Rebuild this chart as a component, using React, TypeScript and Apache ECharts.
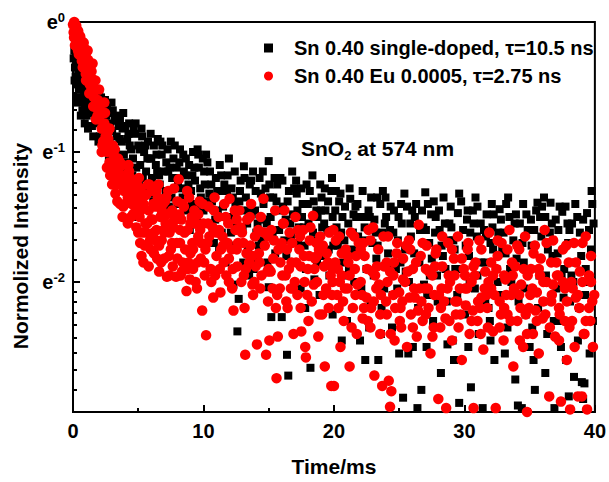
import React, { useEffect, useRef } from "react";
import * as echarts from "echarts";

const FONT = "'Liberation Sans', Arial, Helvetica, sans-serif";

const seriesNames = ["Sn 0.40 single-doped, τ=10.5 ns", "Sn 0.40 Eu 0.0005, τ=2.75 ns"];
const xAxisTitle = "Time/ms";
const yAxisTitle = "Normolized Intensity";

// [time (ms), ln(normalized intensity)]
const blackEarly = [
  [0.05,-0.28],[0.1,-0.22],[0.15,-0.35],[0.2,-0.42],[0.25,-0.3],[0.3,-0.48],[0.35,-0.25],[0.4,-0.38],[0.45,-0.52],[0.5,-0.33],
  [0.55,-0.45],[0.6,-0.58],[0.65,-0.4],[0.7,-0.5],[0.75,-0.62],[0.8,-0.44],[0.85,-0.55],[0.9,-0.66],[0.95,-0.48],[1.0,-0.6],
  [1.1,-0.52],[1.2,-0.67],[1.3,-0.56],[1.4,-0.7],[1.5,-0.6],[1.6,-0.5],[1.7,-0.72],[1.8,-0.62],[1.9,-0.78],[2.0,-0.55],
  [2.1,-0.68],[2.2,-0.8],[2.3,-0.62],[2.4,-0.74],[2.5,-0.86],[2.6,-0.66],[2.7,-0.78],[2.8,-0.92],[2.9,-0.7],[3.0,-0.84],
  [3.1,-0.96],[3.2,-0.76],[3.35,-0.88],[3.5,-0.8],[3.6,-0.75],[3.75,-0.92],[3.9,-1.02],[4.0,-0.8],[4.15,-0.9],[4.3,-0.78],
  [4.45,-0.98],[4.6,-1.05],[4.75,-0.86],[4.9,-1.5],[5.0,-0.95]
];
const blackMid = [
  [5.15,-1.1],[5.3,-0.88],[5.45,-1.0],[5.6,-1.15],[5.75,-0.92],[5.9,-1.05],[6.05,-1.2],[6.2,-0.95],[6.35,-1.1],[6.5,-0.9],
  [6.65,-1.25],[6.8,-1.02],[6.95,-1.15],[7.1,-1.3],[7.25,-0.98],[7.4,-1.12],[7.55,-1.35],[7.7,-1.05],[7.85,-1.2],[8.0,-1.4],
  [8.15,-1.08],[8.3,-1.28],[8.45,-1.02],[8.6,-1.18],[8.75,-1.45],[8.9,-1.1],[9.05,-1.3],[9.2,-1.0],[9.35,-1.22],[9.5,-1.5],
  [9.65,-1.12],[9.8,-1.35],[9.95,-1.05],[10.1,-1.25],[10.2,-1.02],
  [10.35,-1.55],[10.5,-1.15],[10.65,-1.38],[10.8,-1.7],[10.95,-1.2],[11.1,-1.45],[11.25,-1.1],[11.4,-1.62],[11.55,-1.3],[11.7,-1.85],
  [11.85,-1.18],[12.0,-1.5],[12.15,-1.28],[12.3,-2.02],[12.45,-1.4],[12.6,-2.38],[12.7,-2.13],[12.85,-1.22],[13.0,-1.6],[13.1,-1.11],
  [13.25,-1.35],[13.4,-1.75],[13.55,-1.25],[13.7,-1.48],[13.85,-1.9],[14.0,-1.3],[14.15,-1.55],[14.3,-1.2],[14.45,-1.68],[14.6,-1.4],
  [14.75,-1.28],[15.0,-1.07],[15.0,-2.04],[15.15,-1.5],[15.2,-2.27],[15.35,-1.35],[15.5,-1.78],[15.65,-1.25],[15.8,-1.6],[16.0,-2.27],
  [16.1,-1.42],[16.25,-1.95],[16.4,-2.56],[16.5,-2.72],[16.55,-1.3],[16.7,-1.65],[16.85,-1.48],[17.0,-1.85],[17.15,-1.32],[17.3,-1.58],
  [17.45,-2.05],[17.6,-1.4],[17.75,-1.72],[17.9,-1.25],[18.05,-1.55],[18.2,-2.66],[18.3,-1.9],[18.45,-1.38],[18.6,-1.68],[18.75,-1.5],
  [18.9,-2.1],[19.05,-1.35],[19.2,-1.8],[19.35,-1.45],[19.5,-1.6],[19.65,-1.95],[19.8,-1.3],[19.95,-1.72]
];
const blackLate = [
  [20.1,-1.45],[20.25,-2.1],[20.4,-1.38],[20.55,-1.62],[20.7,-1.85],[20.85,-1.42],[21.0,-2.3],[21.1,-1.55],[21.25,-1.36],[21.4,-1.75],
  [21.55,-2.0],[21.7,-1.5],[21.85,-1.65],[22.0,-2.45],[22.2,-1.3],[22.35,-1.58],[22.5,-1.9],[22.65,-1.45],[22.8,-2.15],[22.95,-1.7],
  [23.1,-1.52],[23.25,-1.82],[23.4,-2.6],[23.55,-1.4],[23.7,-1.62],[23.85,-2.05],[24.0,-1.5],[24.15,-1.78],[24.3,-1.6],[24.45,-2.35],
  [24.6,-1.45],[24.75,-1.9],[24.9,-1.68],[25.05,-2.2],[25.2,-1.55],[25.3,-2.89],[25.45,-1.75],[25.6,-1.42],[25.75,-2.0],[25.9,-1.65],
  [26.05,-2.5],[26.2,-1.5],[26.4,-2.97],[26.55,-1.85],[26.7,-2.83],[26.85,-1.58],[27.0,-1.31],[27.15,-2.1],[27.3,-1.7],[27.45,-1.48],
  [27.6,-2.3],[27.75,-1.62],[27.9,-1.95],[28.05,-1.45],[28.2,-2.7],[28.35,-1.8],[28.5,-1.55],[28.65,-2.15],[28.8,-1.68],[28.95,-1.42],
  [29.1,-2.45],[29.25,-1.75],[29.5,-1.47],[29.6,-2.93],[29.75,-1.9],[29.9,-1.6],[30.05,-2.25],[30.2,-1.52],[30.35,-1.8],[30.5,-2.81],
  [30.65,-1.45],[30.8,-2.05],[30.95,-1.65],[31.1,-2.4],[31.25,-1.55],[31.4,-2.97],[31.55,-1.85],[31.7,-1.48],[31.85,-2.2],[32.0,-1.7],
  [32.15,-1.58],[32.3,-2.6],[32.45,-1.9],[32.7,-1.44],[32.85,-2.1],[33.0,-1.62],[33.15,-1.78],[33.3,-2.35],[33.45,-1.5],[33.6,-2.0],
  [33.75,-1.68],[33.9,-2.75],[34.1,-2.95],[34.25,-1.55],[34.4,-2.97],[34.55,-1.85],[34.7,-2.25],[34.85,-1.6],[35.0,-2.5],[35.15,-1.72],
  [35.4,-2.83],[35.6,-1.39],[35.75,-1.95],[35.9,-1.65],[36.05,-2.15],[36.2,-1.5],[36.35,-2.4],[36.6,-1.39],[36.75,-1.8],[36.9,-2.97],
  [37.05,-2.05],[37.2,-1.6],[37.35,-2.3],[37.5,-1.46],[37.65,-1.9],[37.8,-2.6],[37.95,-1.7],[38.1,-2.15],[38.25,-1.55],[38.4,-2.73],
  [38.55,-1.85],[38.7,-2.45],[38.85,-1.62],[39.0,-2.77],[39.1,-2.9],[39.2,-2.78],[39.4,-1.47],[39.55,-2.0],[39.7,-1.75],[39.85,-2.3]
];
const blackFill = [
  [10.45,-1.32],[11.0,-1.62],[11.6,-1.25],[12.2,-1.72],[12.9,-1.45],[13.5,-1.95],[14.05,-1.62],[14.9,-1.85],[15.45,-1.2],[16.3,-1.52],
  [17.1,-1.22],[17.8,-2.2],[18.5,-1.98],[19.1,-1.58],[19.9,-2.25],[20.3,-1.72],[20.9,-1.95],[21.5,-1.48],[22.1,-1.78],[22.7,-2.35],
  [23.3,-1.35],[23.9,-1.55],[24.5,-2.1],[25.1,-1.85],[25.7,-2.55],[26.3,-1.4],[26.9,-2.02],[27.5,-1.82],[28.1,-1.6],[28.7,-2.48],
  [29.3,-1.9],[29.9,-2.05],[30.45,-1.62],[31.0,-1.95],[31.6,-2.15],[32.2,-1.75],[32.8,-1.52],[33.4,-2.1],[34.0,-1.82],[34.6,-2.05],
  [35.2,-2.35],[35.8,-1.5],[36.4,-1.75],[37.0,-1.52],[37.6,-2.12],[38.2,-1.95],[38.8,-2.2],[39.3,-1.9],[39.9,-1.55]
];
const blackFill2 = [
  [0.12,-0.45],[0.28,-0.58],[0.42,-0.28],[0.58,-0.35],[0.72,-0.68],[0.88,-0.38],[1.05,-0.72],[1.25,-0.45],[1.45,-0.8],[1.65,-0.62],
  [1.85,-0.52],[2.05,-0.88],[2.25,-0.7],[2.45,-0.6],[2.65,-0.95],[2.85,-0.8],[3.05,-0.68],[3.3,-1.0],[3.55,-0.9],[3.8,-0.82],
  [4.05,-1.08],[4.35,-0.95],[4.65,-0.82],[4.85,-1.12],
  [5.1,-0.98],[5.35,-1.2],[5.55,-0.95],[5.8,-1.28],[6.0,-1.05],[6.25,-1.32],[6.45,-1.15],[6.7,-0.92],[6.9,-1.38],[7.15,-1.08],
  [7.35,-1.42],[7.6,-1.2],[7.8,-0.95],[8.05,-1.25],[8.25,-1.52],[8.5,-1.15],[8.7,-1.32],[8.95,-1.6],[9.15,-1.18],[9.4,-1.42],
  [9.6,-1.02],[9.85,-1.55],[10.05,-1.15],
  [10.25,-1.38],[10.6,-1.25],[10.9,-1.52],[11.2,-1.75],[11.5,-1.42],[11.8,-1.3],[12.1,-1.62],[12.4,-1.15],[12.75,-1.38],[13.05,-1.85],
  [13.35,-1.55],[13.65,-1.22],[13.95,-1.45],[14.25,-1.72],[14.55,-1.15],[14.85,-1.55],[15.1,-1.35],[15.4,-1.68],[15.75,-1.45],[16.05,-1.22],
  [16.35,-1.8],[16.65,-1.55],[16.95,-1.28],[17.25,-1.7],[17.55,-1.5],[17.85,-1.9],[18.15,-1.3],[18.4,-1.62],[18.7,-1.85],[19.0,-1.45],
  [19.3,-1.28],[19.6,-1.75],[19.9,-1.5],
  [20.2,-1.58],[20.5,-1.32],[20.8,-1.68],[21.15,-1.9],[21.45,-1.62],[21.8,-1.4],[22.1,-2.05],[22.45,-1.68],[22.75,-1.5],[23.05,-1.95],
  [23.35,-1.72],[23.65,-2.2],[23.95,-1.35],[24.25,-1.88],[24.55,-1.62],[24.85,-2.05],[25.15,-1.4],[25.5,-1.92],[25.85,-1.55],[26.15,-1.78],
  [26.45,-2.2],[26.75,-1.45],[27.05,-1.6],[27.35,-1.95],[27.65,-1.38],[27.95,-2.15],[28.25,-1.72],[28.55,-1.9],[28.85,-1.55],[29.15,-1.68],
  [29.45,-2.1],[29.75,-1.38],[30.1,-1.72],[30.4,-2.0],[30.7,-1.55],[31.0,-1.42],[31.3,-1.85],[31.65,-1.65],[31.95,-2.3],[32.25,-1.48],
  [32.55,-2.0],[32.9,-1.75],[33.2,-1.4],[33.5,-1.9],[33.85,-1.55],[34.15,-2.15],[34.45,-1.7],[34.75,-1.48],[35.05,-1.9],[35.35,-1.6],
  [35.65,-2.2],[35.95,-1.42],[36.25,-1.95],[36.55,-1.62],[36.85,-2.3],[37.15,-1.78],[37.45,-1.95],[37.75,-1.42],[38.05,-1.6],[38.35,-2.0],
  [38.65,-1.5],[38.95,-1.8],[39.25,-2.1],[39.55,-1.6],[39.8,-1.4]
];
const blackFill3 = [
  [0.3,-0.62],[0.6,-0.72],[0.9,-0.78],[1.15,-0.82],[1.35,-0.62],[1.55,-0.88],[1.75,-0.68],[1.95,-0.92],[2.15,-0.58],[2.35,-0.98],
  [2.55,-0.72],[2.75,-1.05],[2.95,-0.62],[3.15,-1.08],[3.4,-0.72],[3.65,-1.12],[3.85,-0.7],[4.1,-1.15],[4.25,-0.86],[4.55,-1.18],
  [4.8,-0.78],[5.05,-1.25],[5.25,-0.82],[5.5,-1.32],[5.7,-1.05],[5.95,-0.86],[6.15,-1.38],[6.4,-1.02],[6.6,-1.18],[6.85,-0.95],
  [7.05,-1.45],[7.3,-1.15],[7.5,-0.92],[7.75,-1.5],[7.95,-1.12],[8.2,-0.98],[8.4,-1.35],[8.65,-1.05],[8.85,-1.25],[9.1,-1.4],
  [9.3,-1.12],[9.55,-0.98],[9.75,-1.28],[10.0,-1.45],[10.3,-1.08],[10.7,-1.6],[11.05,-1.3],[11.35,-1.18],[11.65,-1.5],[11.95,-1.05],
  [12.25,-1.35],[12.55,-1.58],[12.8,-1.3],[13.15,-1.2],[13.45,-1.45],[13.8,-1.15],[14.1,-1.82],[14.4,-1.32],[14.7,-1.52],[15.05,-1.25],
  [15.3,-1.62],[15.6,-1.38],[15.9,-1.2],[16.2,-1.68],[16.45,-1.38],[16.8,-1.15],[17.2,-1.45],[17.5,-1.28],[17.7,-1.58],[18.0,-1.4],
  [18.35,-1.18],[18.65,-1.45],[18.95,-1.25],[19.25,-1.55],[19.55,-1.38],[19.85,-1.2],[20.15,-1.3],[20.65,-1.5],[21.2,-1.28],[21.65,-1.42],
  [22.25,-1.5],[22.85,-1.35],[23.2,-1.62],[23.75,-1.3],[24.35,-1.42],[24.95,-1.5],[25.4,-1.32],[26.0,-1.45],[26.6,-1.6],[27.2,-1.4],
  [27.8,-1.5],[28.4,-1.35],[29.0,-1.58],[29.6,-1.32],[30.25,-1.45],[30.85,-1.35],[31.5,-1.6],[32.1,-1.4],[32.6,-1.62],[33.35,-1.35],
  [33.95,-1.48],[34.5,-1.4],[35.1,-1.52],[35.5,-1.45],[36.1,-1.35],[36.7,-1.55],[37.3,-1.42],[37.9,-1.55],[38.5,-1.4],[39.1,-1.52],
  [39.75,-1.3],
  [20.6,-2.45],[22.4,-2.6],[23.6,-2.4],[25.0,-2.55],[27.1,-2.5],[29.2,-2.6],[30.3,-2.5],[32.0,-2.45],[33.1,-2.55],[35.3,-2.6],
  [36.2,-2.7],[37.4,-2.5],[38.0,-2.88],[39.6,-2.55]
];

const redEarly = [
  [0.0,-0.02],[0.05,-0.08],[0.1,0.0],[0.15,-0.05],[0.2,-0.12],[0.25,-0.03],[0.3,-0.1],[0.35,-0.16],[0.4,-0.07],[0.45,-0.14],
  [0.5,-0.2],[0.55,-0.11],[0.6,-0.18],[0.65,-0.25],[0.7,-0.15],[0.75,-0.22],[0.8,-0.28],[0.85,-0.2],[0.9,-0.26],[0.95,-0.33],
  [1.0,-0.24],[1.05,-0.3],[1.1,-0.38],[1.15,-0.29],[1.2,-0.42],[1.3,-0.35],[1.4,-0.5],[1.5,-0.44],[1.6,-0.58],[1.7,-0.52],
  [1.8,-0.66],[1.9,-0.6],[2.0,-0.75],[2.1,-0.68],[2.2,-0.82],[2.3,-0.92],[2.4,-0.78],[2.5,-0.88],[2.6,-1.0],[2.7,-0.9],
  [2.8,-1.08],[2.9,-0.96],[3.0,-1.12],[3.1,-1.02],[3.2,-1.2],[3.3,-1.08],[3.4,-1.25],[3.5,-1.15],[3.6,-1.4],[3.7,-1.2],
  [3.8,-1.1],[3.9,-1.3],[4.0,-1.18],[4.1,-1.25],[4.2,-1.35],[4.3,-1.15],[4.4,-1.28],[4.5,-1.4],[4.6,-1.22],[4.7,-1.32],
  [4.8,-1.45],[4.9,-1.25],[5.0,-1.38]
];
const redMid = [
  [5.1,-1.5],[5.2,-1.28],[5.3,-1.62],[5.4,-1.4],[5.5,-1.72],[5.6,-1.33],[5.7,-1.55],[5.8,-1.45],[5.9,-1.68],[6.0,-1.3],
  [6.1,-1.52],[6.2,-1.78],[6.3,-1.42],[6.4,-1.6],[6.5,-1.35],[6.6,-1.92],[6.7,-1.5],[6.8,-1.68],[6.9,-1.4],[7.0,-1.82],
  [7.1,-1.55],[7.2,-1.96],[7.3,-1.3],[7.4,-1.62],[7.5,-1.75],[7.6,-1.45],[7.7,-1.58],[7.9,-1.96],[8.0,-1.38],[8.1,-1.21],
  [8.2,-1.7],[8.3,-1.52],[8.4,-1.85],[8.5,-1.42],[8.7,-2.07],[8.8,-1.6],[8.9,-1.35],[9.0,-1.78],[9.1,-1.5],[9.2,-1.9],
  [9.3,-1.45],[9.5,-2.05],[9.6,-1.65],[9.7,-1.38],[9.8,-1.82],[9.9,-2.22],[10.0,-1.55],[10.2,-2.41],
  [10.3,-1.7],[10.4,-1.42],[10.55,-1.9],[10.7,-1.58],[10.85,-1.35],[11.0,-1.8],[11.15,-1.5],[11.3,-2.08],[11.45,-1.65],[11.6,-1.4],
  [11.75,-1.95],[11.9,-1.55],[12.0,-1.36],[12.15,-1.75],[12.3,-2.22],[12.45,-1.6],[12.6,-1.88],[12.75,-1.45],[12.9,-2.0],[13.05,-1.7],
  [13.2,-2.56],[13.35,-1.52],[13.5,-1.85],[13.65,-1.4],[13.8,-2.1],[13.95,-1.65],[14.1,-2.48],[14.25,-1.78],[14.4,-1.5],[14.6,-1.36],
  [14.8,-2.56],[14.9,-1.92],[15.05,-2.45],[15.2,-1.6],[15.35,-1.82],[15.5,-1.45],[15.6,-2.74],[15.7,-2.42],[15.85,-2.05],[16.0,-1.7],
  [16.15,-1.55],[16.3,-1.95],[16.45,-2.2],[16.6,-1.62],[16.75,-1.85],[16.9,-2.4],[17.05,-1.5],[17.2,-2.1],[17.35,-1.75],[17.5,-2.38],
  [17.65,-1.6],[17.8,-2.5],[17.85,-2.58],[18.0,-1.9],[18.15,-1.68],[18.3,-2.15],[18.4,-1.49],[18.55,-1.82],[18.7,-2.0],[18.8,-2.42],
  [18.95,-1.65],[19.1,-2.25],[19.3,-2.65],[19.45,-1.78],[19.6,-2.2],[19.75,-1.95],[19.8,-2.8],[19.95,-1.6]
];
const redLate = [
  [20.0,-2.8],[20.1,-1.85],[20.25,-2.1],[20.4,-1.65],[20.5,-2.5],[20.6,-1.95],[20.75,-2.3],[20.9,-1.75],[21.05,-2.05],[21.2,-2.65],
  [21.3,-1.62],[21.45,-2.2],[21.6,-1.9],[21.75,-2.4],[21.9,-1.7],[22.05,-2.0],[22.2,-2.28],[22.35,-1.8],[22.5,-2.12],[22.65,-1.6],
  [22.8,-2.35],[22.95,-1.92],[23.0,-1.58],[23.1,-2.72],[23.25,-2.05],[23.4,-1.75],[23.55,-2.25],[23.7,-2.8],[23.85,-1.88],[24.0,-2.15],
  [24.15,-1.65],[24.2,-2.76],[24.35,-2.4],[24.4,-2.84],[24.3,-2.96],[24.55,-1.95],[24.7,-2.2],[24.85,-1.7],[25.0,-2.08],[25.15,-2.35],
  [25.3,-1.82],[25.45,-2.0],[25.6,-2.5],[25.75,-1.68],[25.9,-2.25],[26.05,-1.9],[26.2,-2.12],[26.35,-2.42],[26.5,-1.56],[26.65,-1.8],
  [26.8,-2.3],[26.95,-2.05],[27.1,-1.72],[27.25,-2.2],[27.4,-2.55],[27.55,-1.95],[27.7,-2.1],[27.85,-1.75],[28.0,-2.9],[28.15,-2.35],
  [28.3,-1.88],[28.45,-2.15],[28.6,-2.97],[28.75,-1.7],[28.9,-2.0],[29.05,-2.45],[29.2,-1.82],[29.35,-2.25],[29.5,-1.65],[29.65,-2.05],
  [29.8,-2.6],[29.95,-1.9],[30.1,-2.18],[30.25,-1.75],[30.4,-2.4],[30.55,-2.0],[30.7,-2.97],[30.85,-1.85],[31.0,-2.3],[31.15,-1.68],
  [31.3,-2.12],[31.45,-2.52],[31.6,-1.92],[31.75,-2.2],[31.9,-1.62],[32.05,-2.05],[32.2,-2.38],[32.4,-2.97],[32.55,-1.8],[32.7,-2.15],
  [32.85,-1.7],[33.0,-2.45],[33.15,-1.98],[33.3,-2.25],[33.45,-1.6],[33.6,-2.1],[33.75,-2.65],[33.9,-1.88],[34.05,-2.3],[34.2,-1.75],
  [34.35,-2.02],[34.5,-2.5],[34.65,-1.65],[34.8,-3.0],[34.95,-2.2],[35.1,-1.9],[35.25,-2.4],[35.4,-1.72],[35.55,-2.08],[35.7,-2.55],
  [35.85,-1.82],[36.0,-2.28],[36.15,-1.6],[36.3,-2.0],[36.5,-2.88],[36.65,-2.15],[36.8,-1.68],[36.95,-2.42],[37.1,-1.95],[37.25,-2.2],
  [37.4,-2.92],[37.55,-1.75],[37.7,-2.05],[37.85,-2.6],[38.0,-1.85],[38.1,-2.98],[38.25,-2.3],[38.4,-1.7],[38.55,-2.12],[38.7,-2.88],
  [38.85,-1.92],[39.0,-2.88],[39.15,-2.4],[39.3,-1.65],[39.4,-2.98],[39.55,-2.2],[39.7,-1.8],[39.85,-2.5],[39.95,-2.1]
];
const redFill = [
  [5.25,-1.8],[5.85,-1.25],[6.45,-1.82],[7.05,-1.38],[7.65,-1.88],[8.25,-1.95],[8.85,-1.85],[9.45,-1.55],[10.1,-1.95],[10.75,-2.12],
  [11.35,-1.75],[11.95,-2.0],[12.55,-1.52],[13.15,-2.2],[13.75,-1.8],[14.35,-2.05],[14.95,-1.65],[15.55,-2.2],[16.2,-1.45],[16.85,-2.05],
  [17.45,-1.88],[18.05,-2.3],[18.65,-1.7],[19.25,-1.88],[19.85,-2.1],[20.45,-2.0],[21.05,-1.8],[21.65,-2.1],[22.25,-1.7],[22.85,-2.2],
  [23.45,-2.02],[24.05,-1.85],[24.65,-2.45],[25.25,-2.15],[25.85,-1.75],[26.45,-2.22],[27.05,-1.9],[27.65,-2.35],[28.25,-2.05],[28.85,-2.3],
  [29.45,-2.15],[30.05,-1.95],[30.65,-2.22],[31.25,-2.4],[31.85,-2.0],[32.45,-1.9],[33.05,-2.2],[33.65,-1.85],[34.25,-2.45],[34.85,-1.95],
  [35.45,-2.22],[36.05,-2.0],[36.65,-1.85],[37.25,-2.45],[37.85,-2.15],[38.45,-2.5],[39.05,-2.0],[39.65,-2.3]
];
const redFill2 = [
  [0.08,-0.12],[0.22,-0.06],[0.38,-0.22],[0.52,-0.14],[0.68,-0.3],[0.82,-0.16],[0.98,-0.4],[1.12,-0.22],[1.28,-0.48],[1.42,-0.38],
  [1.55,-0.65],[1.72,-0.45],[1.88,-0.72],[2.05,-0.62],[2.25,-0.95],[2.45,-0.7],[2.65,-0.85],[2.85,-1.18],[3.05,-0.95],[3.25,-1.32],
  [3.45,-1.05],[3.65,-1.25],[3.85,-1.42],[4.05,-1.28],[4.25,-1.1],[4.45,-1.5],[4.65,-1.35],[4.85,-1.58],
  [5.05,-1.2],[5.15,-1.7],[5.35,-1.35],[5.55,-1.55],[5.75,-1.25],[5.95,-1.75],[6.15,-1.4],[6.35,-1.68],[6.55,-1.25],[6.75,-1.85],
  [6.95,-1.6],[7.15,-1.35],[7.35,-1.8],[7.55,-1.55],[7.75,-1.28],[7.95,-1.7],[8.15,-1.48],[8.35,-1.92],[8.55,-1.62],[8.75,-1.3],
  [8.95,-1.98],[9.15,-1.7],[9.35,-1.55],[9.55,-1.85],[9.75,-1.6],[9.95,-1.4],
  [10.15,-1.75],[10.35,-1.55],[10.6,-2.0],[10.8,-1.45],[11.05,-1.62],[11.25,-1.9],[11.5,-1.72],[11.7,-1.5],[11.95,-1.82],[12.2,-2.05],
  [12.4,-1.45],[12.65,-1.7],[12.85,-1.58],[13.1,-1.95],[13.3,-1.78],[13.55,-1.5],[13.75,-2.02],[14.0,-1.88],[14.2,-1.6],[14.45,-1.95],
  [14.7,-1.72],[14.95,-2.15],[15.15,-1.92],[15.4,-1.68],[15.65,-2.1],[15.9,-1.85],[16.1,-1.55],[16.35,-2.15],[16.55,-1.9],[16.8,-1.7],
  [17.0,-2.0],[17.25,-1.6],[17.45,-2.2],[17.7,-1.8],[17.95,-2.1],[18.2,-1.58],[18.45,-2.02],[18.7,-1.8],[18.9,-2.25],[19.15,-1.72],
  [19.4,-2.05],[19.65,-1.62],[19.9,-1.9],
  [20.15,-1.68],[20.35,-2.2],[20.6,-1.78],[20.85,-2.05],[21.1,-1.85],[21.35,-2.35],[21.55,-1.65],[21.8,-2.02],[22.05,-1.75],[22.3,-2.2],
  [22.55,-1.9],[22.8,-1.68],[23.05,-2.15],[23.3,-1.88],[23.55,-2.4],[23.8,-1.65],[24.05,-2.25],[24.3,-1.92],[24.55,-2.1],[24.8,-1.78],
  [25.05,-2.3],[25.3,-1.98],[25.55,-1.72],[25.8,-2.12],[26.05,-2.35],[26.3,-1.85],[26.55,-2.05],[26.8,-1.7],[27.05,-2.25],[27.3,-1.92],
  [27.55,-2.42],[27.8,-1.78],[28.05,-2.1],[28.3,-1.65],[28.55,-2.28],[28.8,-1.95],[29.05,-1.75],[29.3,-2.15],[29.55,-2.35],[29.8,-1.82],
  [30.05,-2.05],[30.3,-1.7],[30.55,-2.3],[30.8,-1.95],[31.05,-2.15],[31.3,-1.75],[31.55,-2.05],[31.8,-2.35],[32.05,-1.85],[32.3,-2.1],
  [32.55,-1.68],[32.8,-2.25],[33.05,-1.95],[33.3,-1.75],[33.55,-2.3],[33.8,-2.05],[34.05,-1.72],[34.3,-2.2],[34.55,-1.9],[34.8,-2.4],
  [35.05,-2.1],[35.3,-1.78],[35.55,-2.3],[35.8,-1.95],[36.05,-2.15],[36.3,-1.7],[36.55,-2.35],[36.8,-2.02],[37.05,-1.85],[37.3,-2.25],
  [37.55,-2.0],[37.8,-1.72],[38.05,-2.35],[38.3,-2.05],[38.55,-1.85],[38.8,-2.2],[39.05,-1.7],[39.3,-2.3],[39.55,-1.95],[39.8,-2.15]
];
const redFill3 = [
  [0.15,-0.18],[0.45,-0.25],[0.75,-0.35],[1.0,-0.45],[1.25,-0.55],[1.5,-0.32],[1.75,-0.75],[2.0,-0.52],[2.2,-1.0],[2.4,-0.62],
  [2.6,-1.12],[2.8,-0.82],[3.0,-1.25],[3.2,-0.98],[3.4,-1.38],[3.6,-1.08],[3.8,-1.5],[4.0,-1.4],[4.2,-1.55],[4.4,-1.2],
  [4.6,-1.48],[4.8,-1.3],[5.0,-1.62],[5.2,-1.45],[5.4,-1.85],[5.6,-1.62],[5.8,-1.88],[6.0,-1.52],[6.2,-1.62],[6.4,-1.3],
  [6.6,-1.72],[6.8,-1.45],[7.0,-1.62],[7.2,-1.48],[7.4,-1.95],[7.6,-1.7],[7.8,-1.52],[8.0,-1.82],[8.2,-1.6],[8.4,-1.4],
  [8.6,-1.75],[8.8,-1.9],[9.0,-1.55],[9.2,-1.75],[9.4,-2.0],[9.6,-1.48],[9.8,-1.7],[10.05,-1.85],[10.45,-1.65],[10.9,-1.95],
  [11.2,-1.6],[11.55,-1.85],[11.85,-1.7],[12.25,-1.9],[12.55,-1.75],[12.95,-1.62],[13.25,-1.9],[13.6,-1.72],[13.9,-2.0],[14.3,-1.85],
  [14.65,-1.62],[15.0,-1.9],[15.3,-2.05],[15.75,-1.75],[16.05,-1.95],[16.4,-1.75],[16.7,-2.05],[17.1,-1.85],[17.4,-1.65],[17.75,-2.0],
  [18.1,-1.8],[18.5,-1.9],[18.85,-1.75],[19.2,-2.1],[19.55,-1.85],[19.9,-2.0],[20.3,-1.9],[20.7,-2.15],[21.2,-1.95],[21.7,-1.8],
  [22.15,-2.1],[22.6,-2.3],[23.15,-1.95],[23.6,-2.1],[24.1,-2.0],[24.6,-1.85],[25.1,-2.2],[25.65,-1.92],[26.15,-2.05],[26.7,-2.15],
  [27.2,-2.05],[27.75,-1.88],[28.2,-2.2],[28.7,-2.05],[29.25,-1.95],[29.7,-2.25],[30.2,-2.05],[30.7,-1.88],[31.2,-2.2],[31.7,-2.1],
  [32.2,-1.95],[32.7,-2.35],[33.2,-2.1],[33.7,-1.95],[34.2,-2.1],[34.7,-2.25],[35.2,-2.05],[35.7,-1.9],[36.2,-2.25],[36.7,-2.1],
  [37.2,-1.95],[37.7,-2.3],[38.2,-2.0],[38.7,-2.1],[39.2,-2.4],[39.7,-2.0]
];

const xMin = 0;
const xMax = 40;
const xInterval = 10;
const yMinExp = -3;
const yMaxExp = 0;

const toPoints = (arr: number[][]) => arr.map(([t, l]) => [t, Math.exp(l)]);

export default function App() {
  const ref = useRef<HTMLDivElement>(null);
  useEffect(() => {
    if (!ref.current) return;
    const chart = echarts.init(ref.current, null, { renderer: "svg" });
    const bold = { fontFamily: FONT, fontWeight: "bold" as const, color: "#000" };
    chart.setOption({
      animation: false,
      backgroundColor: "#fff",
      grid: {
        left: 73, right: 11, top: 22, bottom: 69,
        containLabel: false, show: true, borderColor: "#000", borderWidth: 2,
      },
      legend: {
        orient: "vertical",
        left: 259,
        top: 33,
        itemWidth: 9,
        itemHeight: 9,
        itemGap: 8,
        selectedMode: false,
        textStyle: { ...bold, fontSize: 20, lineHeight: 20, padding: [0, 0, 0, 16] },
        data: [
          { name: seriesNames[0], icon: "rect" },
          { name: seriesNames[1], icon: "circle" },
        ],
      },
      graphic: [
        {
          type: "text",
          left: 301,
          top: 138,
          style: {
            text: "{a|SnO}{b|2}{a| at 574 nm}",
            fill: "#000",
            rich: {
              a: { fontSize: 21, fontWeight: "bold", fontFamily: FONT, fill: "#000", lineHeight: 26, verticalAlign: "middle" },
              b: { fontSize: 13, fontWeight: "bold", fontFamily: FONT, fill: "#000", lineHeight: 13, verticalAlign: "bottom" },
            },
          },
        },
      ],
      xAxis: {
        type: "value",
        min: xMin,
        max: xMax,
        interval: xInterval,
        name: xAxisTitle,
        nameLocation: "middle",
        nameGap: 44,
        nameTextStyle: { ...bold, fontSize: 21 },
        axisLine: { show: true, onZero: false, lineStyle: { color: "#000", width: 2 } },
        axisTick: { show: true, inside: true, length: 7, lineStyle: { color: "#000", width: 2 } },
        minorTick: { show: true, splitNumber: 2, length: 4, lineStyle: { color: "#000", width: 2 } },
        axisLabel: { ...bold, fontSize: 20, margin: 9 },
        splitLine: { show: false },
      },
      yAxis: {
        type: "log",
        logBase: Math.E,
        min: Math.exp(yMinExp),
        max: Math.exp(yMaxExp),
        name: yAxisTitle,
        nameLocation: "middle",
        nameGap: 42,
        nameTextStyle: { ...bold, fontSize: 21, padding: [0, 58, 0, 0] },
        axisLine: { show: true, onZero: false, lineStyle: { color: "#000", width: 2 } },
        axisTick: { show: true, inside: true, length: 7, lineStyle: { color: "#000", width: 2 } },
        minorTick: { show: true, splitNumber: 9, length: 4, lineStyle: { color: "#000", width: 2 } },
        splitLine: { show: false },
        minorSplitLine: { show: false },
        axisLabel: {
          showMinLabel: false,
          margin: 8,
          formatter: (v: number) => `{e|e}{s|${Math.round(Math.log(v))}}`,
          rich: {
            e: { ...bold, fontSize: 20, lineHeight: 22, verticalAlign: "middle" },
            s: { ...bold, fontSize: 13, lineHeight: 13, verticalAlign: "top" },
          },
        },
      },
      series: [
        {
          type: "scatter",
          name: seriesNames[0],
          symbol: "rect",
          symbolSize: 8,
          itemStyle: { color: "#000", opacity: 1 },
          emphasis: { disabled: true },
          data: toPoints([...blackEarly, ...blackFill2, ...blackFill3, ...blackMid, ...blackFill, ...blackLate]),
          z: 2,
        },
        {
          type: "scatter",
          name: seriesNames[1],
          symbol: "circle",
          symbolSize: 10.5,
          itemStyle: { color: "#ff0000", opacity: 1 },
          emphasis: { disabled: true },
          data: toPoints([...redEarly, ...redFill2, ...redFill3, ...redMid, ...redFill, ...redLate]),
          z: 3,
        },
      ],
    });
    return () => chart.dispose();
  }, []);
  return (
    <div
      ref={ref}
      style={{ position: "fixed", left: 0, top: 0, width: 609, height: 482, background: "#fff" }}
    />
  );
}
